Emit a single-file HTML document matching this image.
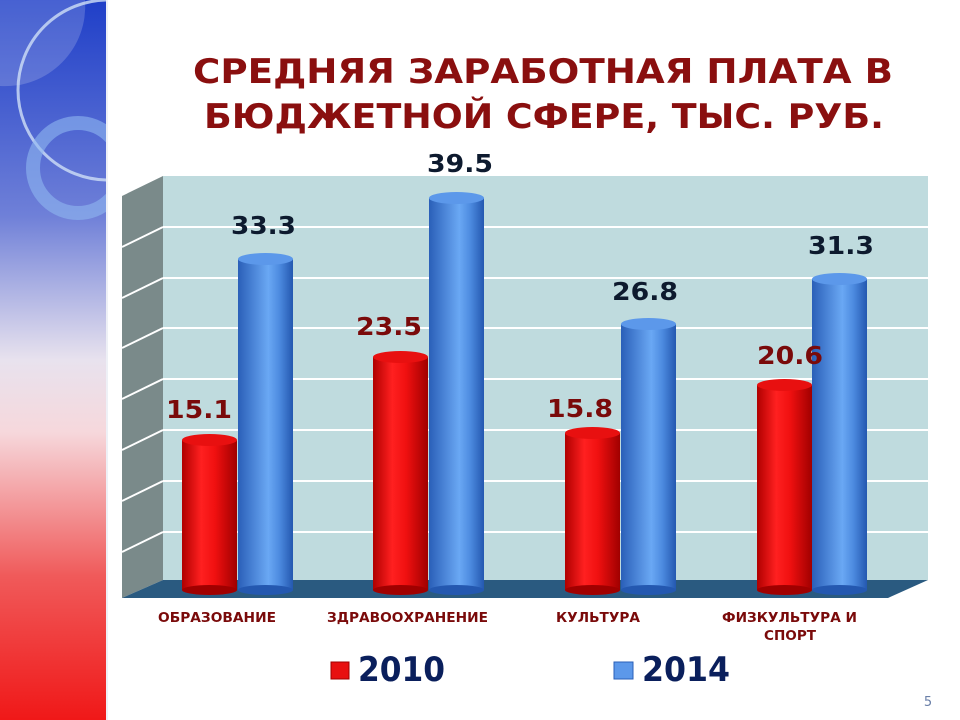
<!DOCTYPE html>
<html><head><meta charset="utf-8"><style>
html,body{margin:0;padding:0;background:#fff;}
svg{display:block;font-family:"DejaVu Sans","Liberation Sans",sans-serif;}
</style></head><body>
<svg width="960" height="720" viewBox="0 0 960 720" xmlns="http://www.w3.org/2000/svg">
<defs>
<linearGradient id="side" x1="0" y1="0" x2="0" y2="1">
<stop offset="0" stop-color="#1f3fc8"/><stop offset="0.3" stop-color="#6f80d8"/>
<stop offset="0.5" stop-color="#e8e2ee"/><stop offset="0.6" stop-color="#f6d8dc"/>
<stop offset="0.8" stop-color="#f05a5a"/><stop offset="1" stop-color="#f01818"/>
</linearGradient>
<linearGradient id="red" x1="0" y1="0" x2="1" y2="0">
<stop offset="0" stop-color="#b00000"/><stop offset="0.35" stop-color="#ff2020"/>
<stop offset="0.6" stop-color="#f01010"/><stop offset="1" stop-color="#a00000"/>
</linearGradient>
<linearGradient id="blue" x1="0" y1="0" x2="1" y2="0">
<stop offset="0" stop-color="#2a5fb8"/><stop offset="0.55" stop-color="#6aa8f4"/>
<stop offset="0.75" stop-color="#4d8be0"/><stop offset="1" stop-color="#2458b0"/>
</linearGradient>
<clipPath id="pc"><rect x="0" y="0" width="106" height="720"/></clipPath>
</defs>
<rect x="0" y="0" width="106" height="720" fill="url(#side)"/>
<rect x="106" y="0" width="2" height="720" fill="#eef0f6"/>
<g clip-path="url(#pc)">
<path d="M0 0 H85 A80 80 0 0 1 0 86 Z" fill="#ffffff" opacity="0.18"/>
<circle cx="108" cy="90" r="90" fill="none" stroke="#cfe0f6" stroke-width="3" opacity="0.8"/>
<circle cx="78" cy="168" r="45" fill="none" stroke="#8fb8f0" stroke-width="14" opacity="0.6"/>
</g>
<!-- title -->
<g fill="#8a0f0f" font-weight="bold" font-size="34">
<text x="193" y="83" textLength="700" lengthAdjust="spacingAndGlyphs">СРЕДНЯЯ ЗАРАБОТНАЯ ПЛАТА В</text>
<text x="204" y="128" textLength="680" lengthAdjust="spacingAndGlyphs">БЮДЖЕТНОЙ СФЕРЕ, ТЫС. РУБ.</text>
</g>
<!-- walls -->
<rect x="163" y="176" width="765" height="404" fill="#bfdbde"/>
<polygon points="122,196 163,176 163,580 122,598" fill="#7a8a8a"/>
<g stroke="#ffffff" stroke-width="2">
<line x1="163" y1="227" x2="928" y2="227"/><line x1="122" y1="247" x2="163" y2="227"/>
<line x1="163" y1="278" x2="928" y2="278"/><line x1="122" y1="298" x2="163" y2="278"/>
<line x1="163" y1="328" x2="928" y2="328"/><line x1="122" y1="348" x2="163" y2="328"/>
<line x1="163" y1="379" x2="928" y2="379"/><line x1="122" y1="399" x2="163" y2="379"/>
<line x1="163" y1="430" x2="928" y2="430"/><line x1="122" y1="450" x2="163" y2="430"/>
<line x1="163" y1="481" x2="928" y2="481"/><line x1="122" y1="501" x2="163" y2="481"/>
<line x1="163" y1="532" x2="928" y2="532"/><line x1="122" y1="552" x2="163" y2="532"/>
</g>
<polygon points="163,580 928,580 888,598 122,598" fill="#2a5a80"/>
<!-- bars -->
<g>
<rect x="182" y="440" width="55" height="150" fill="url(#red)"/><ellipse cx="209.5" cy="590" rx="27.5" ry="5" fill="#a00000"/><ellipse cx="209.5" cy="440" rx="27.5" ry="6" fill="#e81010"/>
<rect x="238" y="259" width="55" height="331" fill="url(#blue)"/><ellipse cx="265.5" cy="590" rx="27.5" ry="5" fill="#2458b0"/><ellipse cx="265.5" cy="259" rx="27.5" ry="6" fill="#5c98ea"/>
<rect x="373" y="357" width="55" height="233" fill="url(#red)"/><ellipse cx="400.5" cy="590" rx="27.5" ry="5" fill="#a00000"/><ellipse cx="400.5" cy="357" rx="27.5" ry="6" fill="#e81010"/>
<rect x="429" y="198" width="55" height="392" fill="url(#blue)"/><ellipse cx="456.5" cy="590" rx="27.5" ry="5" fill="#2458b0"/><ellipse cx="456.5" cy="198" rx="27.5" ry="6" fill="#5c98ea"/>
<rect x="565" y="433" width="55" height="157" fill="url(#red)"/><ellipse cx="592.5" cy="590" rx="27.5" ry="5" fill="#a00000"/><ellipse cx="592.5" cy="433" rx="27.5" ry="6" fill="#e81010"/>
<rect x="621" y="324" width="55" height="266" fill="url(#blue)"/><ellipse cx="648.5" cy="590" rx="27.5" ry="5" fill="#2458b0"/><ellipse cx="648.5" cy="324" rx="27.5" ry="6" fill="#5c98ea"/>
<rect x="757" y="385" width="55" height="205" fill="url(#red)"/><ellipse cx="784.5" cy="590" rx="27.5" ry="5" fill="#a00000"/><ellipse cx="784.5" cy="385" rx="27.5" ry="6" fill="#e81010"/>
<rect x="812" y="279" width="55" height="311" fill="url(#blue)"/><ellipse cx="839.5" cy="590" rx="27.5" ry="5" fill="#2458b0"/><ellipse cx="839.5" cy="279" rx="27.5" ry="6" fill="#5c98ea"/>
</g>
<!-- values -->
<g font-weight="bold" font-size="25">
<text x="166" y="418" fill="#7a0a0a" textLength="66" lengthAdjust="spacingAndGlyphs">15.1</text>
<text x="231" y="234" fill="#0d1a2e" textLength="65" lengthAdjust="spacingAndGlyphs">33.3</text>
<text x="356" y="335" fill="#7a0a0a" textLength="66" lengthAdjust="spacingAndGlyphs">23.5</text>
<text x="427" y="172" fill="#0d1a2e" textLength="66" lengthAdjust="spacingAndGlyphs">39.5</text>
<text x="547" y="417" fill="#7a0a0a" textLength="66" lengthAdjust="spacingAndGlyphs">15.8</text>
<text x="612" y="300" fill="#0d1a2e" textLength="66" lengthAdjust="spacingAndGlyphs">26.8</text>
<text x="757" y="364" fill="#7a0a0a" textLength="66" lengthAdjust="spacingAndGlyphs">20.6</text>
<text x="808" y="254" fill="#0d1a2e" textLength="66" lengthAdjust="spacingAndGlyphs">31.3</text>
</g>
<!-- category labels -->
<g fill="#7a0a0a" font-weight="bold" font-size="13">
<text x="158" y="622" textLength="118" lengthAdjust="spacingAndGlyphs">ОБРАЗОВАНИЕ</text>
<text x="327" y="622" textLength="161" lengthAdjust="spacingAndGlyphs">ЗДРАВООХРАНЕНИЕ</text>
<text x="556" y="622" textLength="84" lengthAdjust="spacingAndGlyphs">КУЛЬТУРА</text>
<text x="722" y="622" textLength="135" lengthAdjust="spacingAndGlyphs">ФИЗКУЛЬТУРА И</text>
<text x="764" y="640" textLength="52" lengthAdjust="spacingAndGlyphs">СПОРТ</text>
</g>
<!-- legend -->
<rect x="331" y="662" width="18" height="17" fill="#e81010" stroke="#a00000"/>
<rect x="614" y="662" width="19" height="17" fill="#5c98ea" stroke="#2a5fb8"/>
<g fill="#0a1f5c" font-weight="bold" font-size="34">
<text x="358" y="681" textLength="87" lengthAdjust="spacingAndGlyphs">2010</text>
<text x="642" y="681" textLength="88" lengthAdjust="spacingAndGlyphs">2014</text>
</g>
<text x="928" y="706" fill="#6a7fa8" font-size="13" text-anchor="middle">5</text>
</svg>
</body></html>
